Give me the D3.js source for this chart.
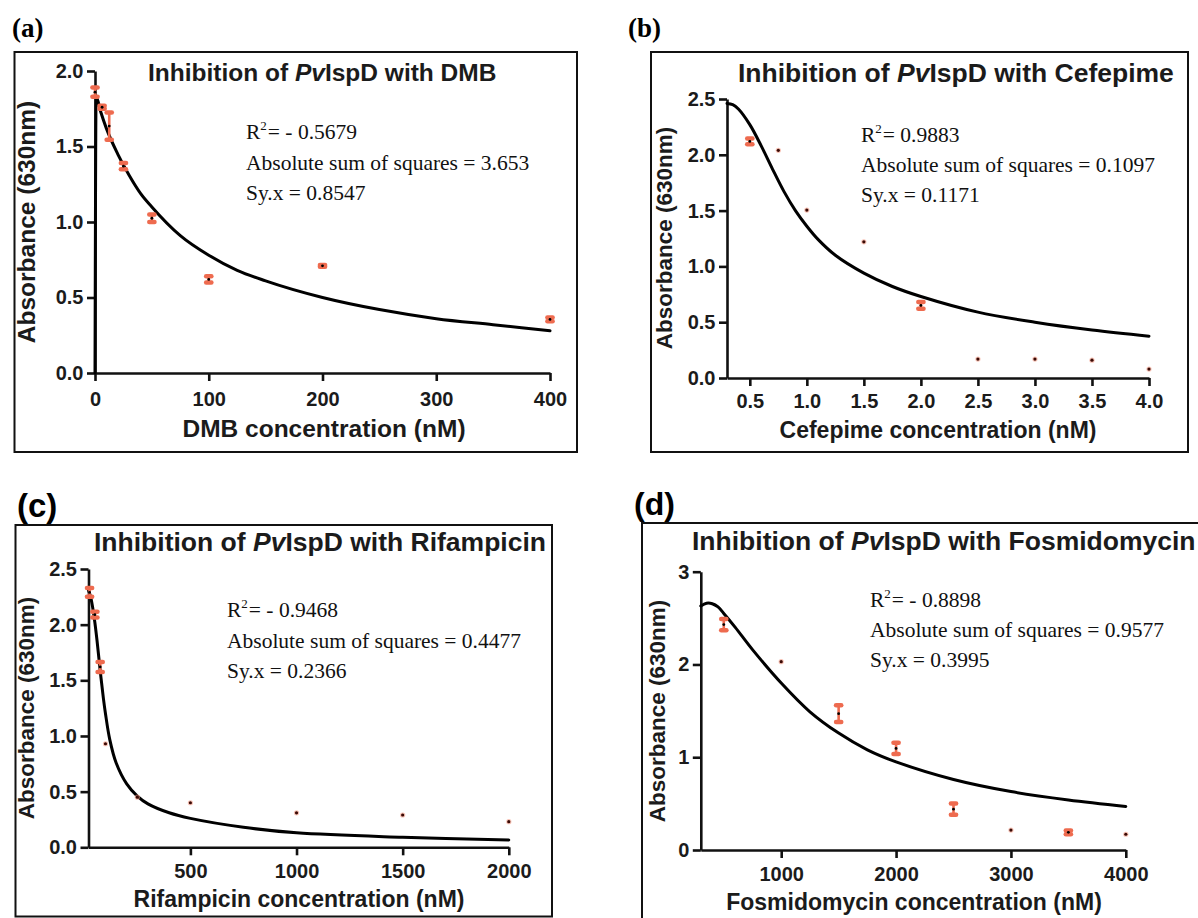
<!DOCTYPE html>
<html>
<head>
<meta charset="utf-8">
<script src="https://cdn.jsdelivr.net/npm/d3@7"></script>
<style>
  html, body { margin: 0; padding: 0; background: #fff; }
  svg { display: block; }
</style>
</head>
<body>
<svg id="chart" width="1198" height="918"></svg>
<script>
// ---------------- DATA ----------------
// (a) DMB
const dmbConc = [0, 6.25, 12.5, 25, 50, 100, 200, 400];
const dmbMean = [1.86, 1.76, 1.635, 1.37, 1.025, 0.62, 0.71, 0.355];
const dmbErr  = [0.03, 0.01, 0.09, 0.02, 0.025, 0.02, 0.006, 0.012];
const dmbFitX = [0, 1, 5, 10, 20, 30, 40, 50, 75, 100, 125, 150, 200, 250, 300, 350, 400];
const dmbFitY = [0, 1.83, 1.73, 1.62, 1.45, 1.31, 1.19, 1.10, 0.91, 0.78, 0.68, 0.61, 0.50, 0.42, 0.36, 0.32, 0.28];
const dmbXTicks = [0, 100, 200, 300, 400];
const dmbYTicks = [0, 0.5, 1.0, 1.5, 2.0];
const dmbStats = ["- 0.5679", "Absolute sum of squares = 3.653", "Sy.x = 0.8547"];

// (b) Cefepime
const cefConc = [0.5, 0.75, 1.0, 1.5, 2.0, 2.5, 3.0, 3.5, 4.0];
const cefMean = [2.12, 2.04, 1.505, 1.22, 0.65, 0.17, 0.17, 0.16, 0.08];
const cefErr  = [0.025, 0, 0, 0, 0.03, 0, 0, 0, 0];
const cefFitX = [0.3, 0.35, 0.4, 0.5, 0.6, 0.7, 0.8, 0.9, 1.0, 1.1, 1.25, 1.5, 1.75, 2.0, 2.5, 3.0, 3.5, 4.0];
const cefFitY = [2.46, 2.45, 2.41, 2.27, 2.08, 1.87, 1.67, 1.50, 1.36, 1.24, 1.10, 0.94, 0.82, 0.73, 0.59, 0.50, 0.43, 0.375];
const cefXTicks = [0.5, 1.0, 1.5, 2.0, 2.5, 3.0, 3.5, 4.0];
const cefYTicks = [0, 0.5, 1.0, 1.5, 2.0, 2.5];
const cefStats = ["0.9883", "Absolute sum of squares = 0.1097", "Sy.x = 0.1171"];

// (c) Rifampicin
const rifConc = [25, 50, 75, 100, 250, 500, 1000, 1500, 2000];
const rifMean = [2.29, 2.09, 1.62, 0.93, 0.45, 0.40, 0.31, 0.29, 0.23];
const rifErr  = [0.04, 0.025, 0.045, 0, 0, 0, 0, 0, 0];
const rifFitX = [20, 30, 40, 50, 60, 75, 90, 100, 120, 150, 200, 250, 300, 400, 500, 750, 1000, 1500, 2000];
const rifFitY = [2.31, 2.25, 2.15, 2.02, 1.86, 1.59, 1.34, 1.20, 0.97, 0.76, 0.57, 0.46, 0.39, 0.31, 0.26, 0.18, 0.13, 0.09, 0.065];
const rifXTicks = [500, 1000, 1500, 2000];
const rifYTicks = [0, 0.5, 1.0, 1.5, 2.0, 2.5];
const rifStats = ["- 0.9468", "Absolute sum of squares = 0.4477", "Sy.x = 0.2366"];

// (d) Fosmidomycin
const fosConc = [500, 1000, 1500, 2000, 2500, 3000, 3500, 4000];
const fosMean = [2.43, 2.03, 1.47, 1.095, 0.44, 0.215, 0.19, 0.17];
const fosErr  = [0.06, 0, 0.09, 0.06, 0.06, 0, 0.02, 0];
const fosFitX = [300, 350, 400, 450, 500, 600, 750, 1000, 1250, 1500, 1750, 2000, 2500, 3000, 3500, 4000];
const fosFitY = [2.63, 2.66, 2.655, 2.62, 2.55, 2.40, 2.16, 1.80, 1.49, 1.26, 1.08, 0.95, 0.76, 0.63, 0.54, 0.47];
const fosXTicks = [1000, 2000, 3000, 4000];
const fosYTicks = [0, 1, 2, 3];
const fosStats = ["- 0.8898", "Absolute sum of squares = 0.9577", "Sy.x = 0.3995"];

// ---------------- LAYOUT ----------------
const SANS = "'Liberation Sans', Arial, sans-serif";
const SERIF = "'Liberation Serif', 'Times New Roman', serif";
const RED = "#ee6b4f";
const INK = "#1b1b1b";

const panels = [
  { tag: "(a)", tagFont: SERIF, tagSize: 27, tagX: 12, tagY: 37,
    frame: [14.5, 52, 562.5, 400],
    xDomain: [0, 400], xRange: [95, 550], yDomain: [0, 2], yRange: [373, 71],
    xTicks: dmbXTicks, yTicks: dmbYTicks, xFmt: d3.format("d"), yFmt: d3.format(".1f"), xPad: 11,
    conc: dmbConc, mean: dmbMean, err: dmbErr, fitX: dmbFitX, fitY: dmbFitY, curve: d3.curveMonotoneX,
    drug: "DMB", titleX: 148, titleY: 81, titleSize: 24.5,
    xLabel: "DMB concentration (nM)", xLabelX: 324, xLabelY: 437, xLabelSize: 24.5,
    yLabelX: 35, yLabelY: 222, yLabelSize: 24.5,
    stats: dmbStats, statsX: 246, statsY: [139, 170, 200] },
  { tag: "(b)", tagFont: SERIF, tagSize: 27, tagX: 628, tagY: 37,
    frame: [651, 52, 537, 400],
    xDomain: [0.3, 4.0], xRange: [727, 1149], yDomain: [0, 2.5], yRange: [378, 99],
    xTicks: cefXTicks, yTicks: cefYTicks, xFmt: d3.format(".1f"), yFmt: d3.format(".1f"), xPad: 8,
    conc: cefConc, mean: cefMean, err: cefErr, fitX: cefFitX, fitY: cefFitY, curve: d3.curveCatmullRom.alpha(0.5),
    drug: "Cefepime", titleX: 738, titleY: 81.5, titleSize: 26.5,
    xLabel: "Cefepime concentration (nM)", xLabelX: 938, xLabelY: 438, xLabelSize: 23,
    yLabelX: 672, yLabelY: 238, yLabelSize: 22.5,
    stats: cefStats, statsX: 861, statsY: [142, 172, 202] },
  { tag: "(c)", tagFont: SANS, tagSize: 33, tagX: 17, tagY: 517,
    frame: [15.5, 525, 536.5, 391.5],
    xDomain: [20, 2000], xRange: [88.5, 508.8], yDomain: [0, 2.5], yRange: [847.3, 569],
    xTicks: rifXTicks, yTicks: rifYTicks, xFmt: d3.format("d"), yFmt: d3.format(".1f"), xPad: 9,
    conc: rifConc, mean: rifMean, err: rifErr, fitX: rifFitX, fitY: rifFitY, curve: d3.curveCatmullRom.alpha(0.5),
    drug: "Rifampicin", titleX: 94, titleY: 550.5, titleSize: 26.5,
    xLabel: "Rifampicin concentration (nM)", xLabelX: 299, xLabelY: 906.5, xLabelSize: 23,
    yLabelX: 34, yLabelY: 708, yLabelSize: 22.5,
    stats: rifStats, statsX: 227, statsY: [617, 648, 678] },
  { tag: "(d)", tagFont: SANS, tagSize: 32, tagX: 634, tagY: 515,
    frame: [642, 523, 620, 420],
    xDomain: [300, 4000], xRange: [700.8, 1125.8], yDomain: [0, 3], yRange: [850, 571.7],
    xTicks: fosXTicks, yTicks: fosYTicks, xFmt: d3.format("d"), yFmt: d3.format("d"), xPad: 8.5,
    conc: fosConc, mean: fosMean, err: fosErr, fitX: fosFitX, fitY: fosFitY, curve: d3.curveCatmullRom.alpha(0.5),
    drug: "Fosmidomycin", titleX: 692, titleY: 550, titleSize: 26.5,
    xLabel: "Fosmidomycin concentration (nM)", xLabelX: 914, xLabelY: 910, xLabelSize: 23,
    yLabelX: 665, yLabelY: 711, yLabelSize: 22.5,
    stats: fosStats, statsX: 870, statsY: [607, 637, 667] }
];

const svg = d3.select("#chart");
svg.append("rect").attr("width", 1198).attr("height", 918).attr("fill", "#fff");

function drawPanel(p) {
  const g = svg.append("g");
  // frame
  g.append("rect")
    .attr("x", p.frame[0]).attr("y", p.frame[1])
    .attr("width", p.frame[2]).attr("height", p.frame[3])
    .attr("fill", "none").attr("stroke", "#111").attr("stroke-width", 2);

  // panel tag
  g.append("text").attr("x", p.tagX).attr("y", p.tagY)
    .attr("font-family", p.tagFont).attr("font-weight", "bold")
    .attr("font-size", p.tagSize).attr("fill", "#000").text(p.tag);

  const x = d3.scaleLinear().domain(p.xDomain).range(p.xRange);
  const y = d3.scaleLinear().domain(p.yDomain).range(p.yRange);

  // axes
  const xAxis = g.append("g")
    .attr("transform", `translate(0,${p.yRange[0]})`)
    .call(d3.axisBottom(x).tickValues(p.xTicks).tickFormat(p.xFmt)
      .tickSize(8).tickSizeOuter(0).tickPadding(p.xPad));
  const yAxis = g.append("g")
    .attr("transform", `translate(${p.xRange[0]},0)`)
    .call(d3.axisLeft(y).tickValues(p.yTicks).tickFormat(p.yFmt)
      .tickSize(8).tickSizeOuter(0).tickPadding(3.5));
  [xAxis, yAxis].forEach(a => {
    a.select(".domain").attr("stroke", "#111").attr("stroke-width", 2.6);
    a.selectAll(".tick line").attr("stroke", "#111").attr("stroke-width", 2.6);
    a.selectAll(".tick text").attr("font-family", SANS).attr("font-weight", "bold")
      .attr("font-size", 20).attr("fill", INK);
  });

  // fitted curve
  const fit = p.fitX.map((v, i) => [v, p.fitY[i]]);
  g.append("path").datum(fit)
    .attr("fill", "none").attr("stroke", "#000").attr("stroke-width", 3)
    .attr("stroke-linejoin", "round").attr("stroke-linecap", "round")
    .attr("d", d3.line().x(d => x(d[0])).y(d => y(d[1])).curve(p.curve));

  // error bars and points
  const pts = p.conc.map((c, i) => ({ c, m: p.mean[i], e: p.err[i] }));
  const eb = g.append("g");
  pts.forEach(d => {
    if (d.e > 0) {
      const cx = x(d.c), y1 = y(d.m + d.e), y2 = y(d.m - d.e);
      eb.append("line").attr("x1", cx).attr("x2", cx).attr("y1", y1).attr("y2", y2)
        .attr("stroke", RED).attr("stroke-width", 2.6);
      [y1, y2].forEach(yy => eb.append("line")
        .attr("x1", cx - 2.6).attr("x2", cx + 2.6).attr("y1", yy).attr("y2", yy)
        .attr("stroke", RED).attr("stroke-width", 4.5).attr("stroke-linecap", "round"));
      eb.append("circle").attr("cx", cx).attr("cy", y(d.m)).attr("r", 1.4).attr("fill", "#000");
    } else {
      eb.append("circle").attr("cx", x(d.c)).attr("cy", y(d.m)).attr("r", 2.6)
        .attr("fill", "#f19a84").attr("opacity", 0.6);
      eb.append("circle").attr("cx", x(d.c)).attr("cy", y(d.m)).attr("r", 1.6).attr("fill", "#3a0a05");
    }
  });

  // title
  const t = g.append("text").attr("x", p.titleX).attr("y", p.titleY)
    .attr("font-family", SANS).attr("font-weight", "bold")
    .attr("font-size", p.titleSize).attr("fill", INK);
  t.append("tspan").text("Inhibition of ");
  t.append("tspan").attr("font-style", "italic").text("Pv");
  t.append("tspan").text("IspD with " + p.drug);

  // axis labels
  g.append("text").attr("x", p.xLabelX).attr("y", p.xLabelY)
    .attr("text-anchor", "middle").attr("font-family", SANS).attr("font-weight", "bold")
    .attr("font-size", p.xLabelSize).attr("fill", INK).text(p.xLabel);
  g.append("text")
    .attr("transform", `translate(${p.yLabelX},${p.yLabelY}) rotate(-90)`)
    .attr("text-anchor", "middle").attr("font-family", SANS).attr("font-weight", "bold")
    .attr("font-size", p.yLabelSize).attr("fill", INK).text("Absorbance (630nm)");

  // stats
  const r2 = g.append("text").attr("x", p.statsX).attr("y", p.statsY[0])
    .attr("font-family", SERIF).attr("font-size", 21.5).attr("fill", "#111");
  r2.append("tspan").text("R");
  r2.append("tspan").attr("font-size", 13).attr("dy", -9).text("2");
  r2.append("tspan").attr("dy", 9).attr("dx", 1).text("= " + p.stats[0]);
  [1, 2].forEach(k => g.append("text").attr("x", p.statsX).attr("y", p.statsY[k])
    .attr("font-family", SERIF).attr("font-size", 21.5).attr("fill", "#111").text(p.stats[k]));
}

panels.forEach(drawPanel);
</script>
</body>
</html>
